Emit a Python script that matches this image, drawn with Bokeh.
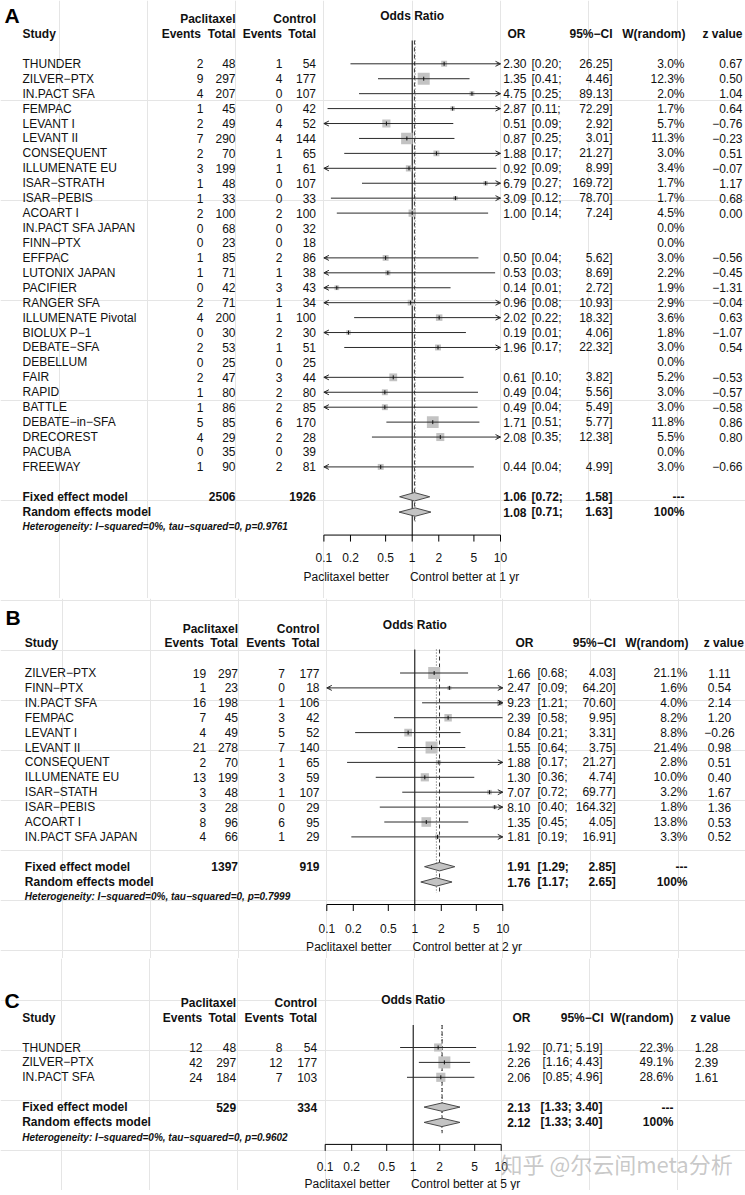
import math
from bokeh.plotting import figure
from bokeh.models import Range1d, Arrow, OpenHead, ColumnDataSource
from bokeh.layouts import column
from bokeh.embed import file_html
from bokeh.resources import INLINE
from bokeh.core.properties import value

FONT = "Liberation Sans"
M = "\u2212"

# ---------------- data ----------------
TICKS = [0.1, 0.2, 0.5, 1, 2, 5, 10]
TICK_LABELS = ["0.1", "0.2", "0.5", "1", "2", "5", "10"]

A_study = ["THUNDER", "ZILVER" + M + "PTX", "IN.PACT SFA", "FEMPAC", "LEVANT I", "LEVANT II",
           "CONSEQUENT", "ILLUMENATE EU", "ISAR" + M + "STRATH", "ISAR" + M + "PEBIS", "ACOART I",
           "IN.PACT SFA JAPAN", "FINN" + M + "PTX", "EFFPAC", "LUTONIX JAPAN", "PACIFIER",
           "RANGER SFA", "ILLUMENATE Pivotal", "BIOLUX P" + M + "1", "DEBATE" + M + "SFA",
           "DEBELLUM", "FAIR", "RAPID", "BATTLE", "DEBATE" + M + "in" + M + "SFA", "DRECOREST",
           "PACUBA", "FREEWAY"]
A_ev_p = [2, 9, 4, 1, 2, 7, 2, 3, 1, 1, 2, 0, 0, 1, 1, 0, 2, 4, 0, 2, 0, 2, 1, 1, 5, 4, 0, 1]
A_tot_p = [48, 297, 207, 45, 49, 290, 70, 199, 48, 33, 100, 68, 23, 85, 71, 42, 71, 200, 30, 53,
           25, 47, 80, 86, 85, 29, 35, 90]
A_ev_c = [1, 4, 0, 0, 4, 4, 1, 1, 0, 0, 2, 0, 0, 2, 1, 3, 1, 1, 2, 1, 0, 3, 2, 2, 6, 2, 0, 2]
A_tot_c = [54, 177, 107, 42, 52, 144, 65, 61, 107, 33, 100, 32, 18, 86, 38, 43, 34, 100, 30, 51,
           25, 44, 80, 85, 170, 28, 39, 81]
A_or = [2.30, 1.35, 4.75, 2.87, 0.51, 0.87, 1.88, 0.92, 6.79, 3.09, 1.00, None, None, 0.50, 0.53,
        0.14, 0.96, 2.02, 0.19, 1.96, None, 0.61, 0.49, 0.49, 1.71, 2.08, None, 0.44]
A_lo = [0.20, 0.41, 0.25, 0.11, 0.09, 0.25, 0.17, 0.09, 0.27, 0.12, 0.14, None, None, 0.04, 0.03,
        0.01, 0.08, 0.22, 0.01, 0.17, None, 0.10, 0.04, 0.04, 0.51, 0.35, None, 0.04]
A_hi = [26.25, 4.46, 89.13, 72.29, 2.92, 3.01, 21.27, 8.99, 169.72, 78.70, 7.24, None, None, 5.62,
        8.69, 2.72, 10.93, 18.32, 4.06, 22.32, None, 3.82, 5.56, 5.49, 5.77, 12.38, None, 4.99]
A_w = [3.0, 12.3, 2.0, 1.7, 5.7, 11.3, 3.0, 3.4, 1.7, 1.7, 4.5, 0.0, 0.0, 3.0, 2.2, 1.9, 2.9, 3.6,
       1.8, 3.0, 0.0, 5.2, 3.0, 3.0, 11.8, 5.5, 0.0, 3.0]
A_z = [0.67, 0.50, 1.04, 0.64, -0.76, -0.23, 0.51, -0.07, 1.17, 0.68, 0.00, None, None, -0.56,
       -0.45, -1.31, -0.04, 0.63, -1.07, 0.54, None, -0.53, -0.57, -0.58, 0.86, 0.80, None, -0.66]
A_totals = [2506, 1926]
A_fixed = [1.06, 0.72, 1.58]
A_random = [1.08, 0.71, 1.63]
A_het = "Heterogeneity: I" + M + "squared=0%, tau" + M + "squared=0, p=0.9761"
A_label_right = "Control better at 1 yr"

B_study = ["ZILVER" + M + "PTX", "FINN" + M + "PTX", "IN.PACT SFA", "FEMPAC", "LEVANT I", "LEVANT II",
           "CONSEQUENT", "ILLUMENATE EU", "ISAR" + M + "STATH", "ISAR" + M + "PEBIS", "ACOART I",
           "IN.PACT SFA JAPAN"]
B_ev_p = [19, 1, 16, 7, 4, 21, 2, 13, 3, 3, 8, 4]
B_tot_p = [297, 23, 198, 45, 49, 278, 70, 199, 48, 28, 96, 66]
B_ev_c = [7, 0, 1, 3, 5, 7, 1, 3, 1, 0, 6, 1]
B_tot_c = [177, 18, 106, 42, 52, 140, 65, 59, 107, 29, 95, 29]
B_or = [1.66, 2.47, 9.23, 2.39, 0.84, 1.55, 1.88, 1.30, 7.07, 8.10, 1.35, 1.81]
B_lo = [0.68, 0.09, 1.21, 0.58, 0.21, 0.64, 0.17, 0.36, 0.72, 0.40, 0.45, 0.19]
B_hi = [4.03, 64.20, 70.60, 9.95, 3.31, 3.75, 21.27, 4.74, 69.77, 164.32, 4.05, 16.91]
B_w = [21.1, 1.6, 4.0, 8.2, 8.8, 21.4, 2.8, 10.0, 3.2, 1.8, 13.8, 3.3]
B_z = [1.11, 0.54, 2.14, 1.20, -0.26, 0.98, 0.51, 0.40, 1.67, 1.36, 0.53, 0.52]
B_totals = [1397, 919]
B_fixed = [1.91, 1.29, 2.85]
B_random = [1.76, 1.17, 2.65]
B_het = "Heterogeneity: I" + M + "squared=0%, tau" + M + "squared=0, p=0.7999"
B_label_right = "Control better at 2 yr"

C_study = ["THUNDER", "ZILVER" + M + "PTX", "IN.PACT SFA"]
C_ev_p = [12, 42, 24]
C_tot_p = [48, 297, 184]
C_ev_c = [8, 12, 7]
C_tot_c = [54, 177, 103]
C_or = [1.92, 2.26, 2.06]
C_lo = [0.71, 1.16, 0.85]
C_hi = [5.19, 4.43, 4.96]
C_w = [22.3, 49.1, 28.6]
C_z = [1.28, 2.39, 1.61]
C_totals = [529, 334]
C_fixed = [2.13, 1.33, 3.40]
C_random = [2.12, 1.33, 3.40]
C_het = "Heterogeneity: I" + M + "squared=0%, tau" + M + "squared=0, p=0.9602"
C_label_right = "Control better at 5 yr"

WATERMARK = "知乎 @尔云间meta分析"

# ---------------- layout (screenshot pixels) ----------------
PAGE_W = 745
LA = dict(x0=411.7, s=88.3, top=0, bottom=598, letter="A", lx=4, ly=14.5,
          h1=18.3, h2=33.0, odds_y=15.0, y0=63.3, dy=14.93, dr=15.3, dh=14.7,
          da=23.0, dtl=22.7, dlab=19.0, vtop=40,
          c_study=22, c_evp=203, c_totp=235, c_evc=282, c_totc=315.5,
          h_evp=200.5, h_evc=281.5, c_or=526, h_or=525, ci_split=True, ci_l=531, ci_r=612,
          h_ci=612, c_w=684, h_w=685, c_z=742, z_align="right", h_z=742)
LB = dict(x0=414.3, s=88.0, top=598, bottom=958, letter="B", lx=5, ly=616.7,
          h1=628.3, h2=642.5, odds_y=624.3, y0=672.5, dy=14.9, dr=15.3, dh=14.7,
          da=22.5, dtl=23.5, dlab=18.7, vtop=649,
          c_study=24.3, c_evp=205.6, c_totp=237.5, c_evc=284.5, c_totc=319,
          h_evp=203.3, h_evc=285, c_or=530, h_or=533, ci_split=True, ci_l=537, ci_r=615.3,
          h_ci=615.3, c_w=687, h_w=688, c_z=719, z_align="center", h_z=743.3)
LC = dict(x0=412.7, s=88.0, top=958, bottom=1190, letter="C", lx=4, ly=1000,
          h1=1002.3, h2=1017.7, odds_y=999.3, y0=1047, dy=14.9, dr=15.3, dh=14.7,
          da=22.0, dtl=22.0, dlab=18.0, vtop=1024.5,
          c_study=21.7, c_evp=202, c_totp=235.7, c_evc=282, c_totc=316.7,
          h_evp=201.7, h_evc=283.3, c_or=530, h_or=530, ci_split=False, ci_l=539, ci_r=602,
          h_ci=603.3, c_w=673, h_w=673, c_z=706, z_align="center", h_z=730)

TXT = "#111111"
CI_COL = "#2b2b2b"
BOX_COL = "#c3c3c3"


def X(px, L):
    return 10 ** ((px - L["x0"]) / L["s"])


def f2(v):
    return f"{v:.2f}".replace("-", M)


def T(p, L, xpx, y, texts, align="left", style="normal", size=12, color=TXT, font=FONT, alpha=1.0):
    if not isinstance(texts, list):
        texts = [texts]
    n = len(texts)
    xs = xpx if isinstance(xpx, list) else [xpx] * n
    ys = y if isinstance(y, list) else [y] * n
    p.text(x=[X(v, L) for v in xs], y=ys, text=texts, text_align=align,
           text_baseline="middle", text_font=value(font), text_font_size=value(f"{size}px"),
           text_font_style=style, text_color=color, text_alpha=alpha)


def panel(L, study, ev_p, tot_p, ev_c, tot_c, orv, lo, hi, w, z, totals, fixed, random_,
          het, label_right, watermark=None):
    p = figure(width=PAGE_W, height=int(L["bottom"] - L["top"]), x_axis_type="log",
               x_range=Range1d(X(0, L), X(PAGE_W, L)),
               y_range=Range1d(L["bottom"], L["top"]),
               x_axis_location=None, y_axis_location=None,
               output_backend="svg", toolbar_location=None, min_border=0)
    p.outline_line_color = None
    p.background_fill_color = "white"
    p.border_fill_color = "white"

    n = len(study)
    ys = [L["y0"] + i * L["dy"] for i in range(n)]
    yf = ys[-1] + 2 * L["dy"]
    yr = yf + L["dr"]
    yh = yr + L["dh"]
    ya = yr + L["da"]
    ytl = ya + L["dtl"]
    ylab = ytl + L["dlab"]

    lo_lim, hi_lim = TICKS[0], TICKS[-1]

    # reference / summary vertical lines
    p.segment(x0=[1], y0=[L["vtop"]], x1=[1], y1=[ya], line_color="black", line_width=1)
    p.segment(x0=[fixed[0]], y0=[L["vtop"]], x1=[fixed[0]], y1=[yh - 4], line_color="#333333",
              line_width=1, line_dash="4 3")
    p.segment(x0=[random_[0]], y0=[L["vtop"]], x1=[random_[0]], y1=[yh - 4], line_color="#555555",
              line_width=1, line_dash="1 2")

    ok = [i for i in range(n) if orv[i] is not None]
    wmax = max(w)
    sizes = [max(4.0, 12.0 * math.sqrt(w[i] / wmax)) for i in ok]
    p.scatter(x=[orv[i] for i in ok], y=[ys[i] for i in ok], size=sizes, marker="square",
              fill_color=BOX_COL, line_color=None)
    p.segment(x0=[max(lo[i], lo_lim) for i in ok], y0=[ys[i] for i in ok],
              x1=[min(hi[i], hi_lim) for i in ok], y1=[ys[i] for i in ok],
              line_color=CI_COL, line_width=1)
    p.scatter(x=[orv[i] for i in ok], y=[ys[i] for i in ok], size=4, marker="dash",
              angle=math.pi / 2, line_color="#111111", line_width=1)

    right = [i for i in ok if hi[i] > hi_lim]
    left = [i for i in ok if lo[i] <= lo_lim]
    if right:
        src = ColumnDataSource(dict(xs=[hi_lim / 1.1] * len(right), xe=[hi_lim] * len(right),
                                    y=[ys[i] for i in right]))
        p.add_layout(Arrow(end=OpenHead(size=5, line_color=CI_COL, line_width=1),
                           x_start="xs", y_start="y", x_end="xe", y_end="y", source=src,
                           line_color=CI_COL, line_width=1))
    if left:
        src = ColumnDataSource(dict(xs=[lo_lim * 1.1] * len(left), xe=[lo_lim] * len(left),
                                    y=[ys[i] for i in left]))
        p.add_layout(Arrow(end=OpenHead(size=5, line_color=CI_COL, line_width=1),
                           x_start="xs", y_start="y", x_end="xe", y_end="y", source=src,
                           line_color=CI_COL, line_width=1))

    # diamonds
    hh = 4.2
    p.patches(xs=[[fixed[1], fixed[0], fixed[2], fixed[0]], [random_[1], random_[0], random_[2], random_[0]]],
              ys=[[yf, yf - hh, yf, yf + hh], [yr, yr - hh, yr, yr + hh]],
              fill_color=BOX_COL, line_color="#4a4a4a", line_width=1)

    # axis
    p.segment(x0=[TICKS[0]], y0=[ya], x1=[TICKS[-1]], y1=[ya], line_color="black", line_width=1)
    p.segment(x0=TICKS, y0=[ya] * len(TICKS), x1=TICKS, y1=[ya + 6.5] * len(TICKS),
              line_color="black", line_width=1)
    p.text(x=TICKS, y=[ytl] * len(TICKS), text=TICK_LABELS, text_align="center",
           text_baseline="middle", text_font=value(FONT), text_font_size=value("12px"),
           text_color=TXT)
    T(p, L, L["x0"] - 23.3, ylab, "Paclitaxel better", align="right")
    T(p, L, L["x0"] - 2.3, ylab, label_right, align="left")

    # headers
    T(p, L, L["lx"], L["ly"], L["letter"], style="bold", size=21, color="black")
    T(p, L, L["c_totp"], L["h1"], "Paclitaxel", align="right", style="bold")
    T(p, L, L["c_totc"], L["h1"], "Control", align="right", style="bold")
    T(p, L, L["c_study"], L["h2"], "Study", style="bold")
    T(p, L, [L["h_evp"], L["c_totp"], L["h_evc"], L["c_totc"]], L["h2"],
      ["Events", "Total", "Events", "Total"], align="right", style="bold")
    T(p, L, L["x0"], L["odds_y"], "Odds Ratio", align="center", style="bold")
    T(p, L, [L["h_or"], L["h_ci"], L["h_w"], L["h_z"]], L["h2"],
      ["OR", "95%" + M + "CI", "W(random)", "z value"], align="right", style="bold")

    # study rows
    T(p, L, L["c_study"], ys, list(study))
    T(p, L, L["c_evp"], ys, [str(v) for v in ev_p], align="right")
    T(p, L, L["c_totp"], ys, [str(v) for v in tot_p], align="right")
    T(p, L, L["c_evc"], ys, [str(v) for v in ev_c], align="right")
    T(p, L, L["c_totc"], ys, [str(v) for v in tot_c], align="right")
    yok = [ys[i] for i in ok]
    T(p, L, L["c_or"], yok, [f2(orv[i]) for i in ok], align="right")
    if L["ci_split"]:
        T(p, L, L["ci_l"], yok, ["[" + f2(lo[i]) + ";" for i in ok], align="left")
        T(p, L, L["ci_r"], yok, [f2(hi[i]) + "]" for i in ok], align="right")
    else:
        T(p, L, L["ci_r"], yok, ["[" + f2(lo[i]) + "; " + f2(hi[i]) + "]" for i in ok], align="right")
    T(p, L, L["c_w"], ys, [f"{v:.1f}%" for v in w], align="right")
    T(p, L, L["c_z"], yok, [f2(z[i]) for i in ok], align=L["z_align"])

    # summary rows
    T(p, L, L["c_study"], [yf, yr], ["Fixed effect model", "Random effects model"], style="bold")
    T(p, L, [L["c_totp"], L["c_totc"]], [yf, yf], [str(totals[0]), str(totals[1])],
      align="right", style="bold")
    T(p, L, L["c_or"], [yf, yr], [f2(fixed[0]), f2(random_[0])], align="right", style="bold")
    if L["ci_split"]:
        T(p, L, L["ci_l"], [yf, yr], ["[" + f2(fixed[1]) + ";", "[" + f2(random_[1]) + ";"],
          align="left", style="bold")
        T(p, L, L["ci_r"], [yf, yr], [f2(fixed[2]) + "]", f2(random_[2]) + "]"],
          align="right", style="bold")
    else:
        T(p, L, L["ci_r"], [yf, yr],
          ["[" + f2(fixed[1]) + "; " + f2(fixed[2]) + "]", "[" + f2(random_[1]) + "; " + f2(random_[2]) + "]"],
          align="right", style="bold")
    T(p, L, L["c_w"], [yf, yr], ["---", "100%"], align="right", style="bold")
    T(p, L, L["c_study"], yh, het, style="bold italic", size=10)

    if watermark:
        T(p, L, 500, ytl - 3, watermark, size=22, color="#9a9a9a", alpha=0.55,
          font="Noto Sans CJK SC")
    return p


pA = panel(LA, A_study, A_ev_p, A_tot_p, A_ev_c, A_tot_c, A_or, A_lo, A_hi, A_w, A_z,
           A_totals, A_fixed, A_random, A_het, A_label_right)
pB = panel(LB, B_study, B_ev_p, B_tot_p, B_ev_c, B_tot_c, B_or, B_lo, B_hi, B_w, B_z,
           B_totals, B_fixed, B_random, B_het, B_label_right)
pC = panel(LC, C_study, C_ev_p, C_tot_p, C_ev_c, C_tot_c, C_or, C_lo, C_hi, C_w, C_z,
           C_totals, C_fixed, C_random, C_het, C_label_right, watermark=WATERMARK)

layout = column(pA, pB, pC, spacing=0)
open("out.html", "w").write(file_html(layout, INLINE))
